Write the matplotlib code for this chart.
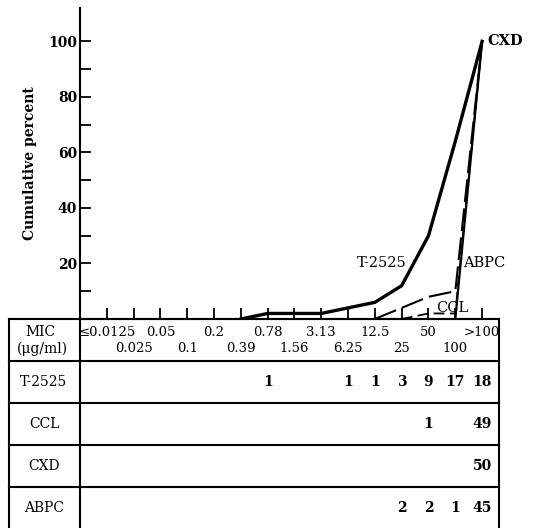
import numpy as np
import matplotlib
matplotlib.use('Agg')
import matplotlib.pyplot as plt
from matplotlib.transforms import blended_transform_factory

plt.rcParams['font.family'] = ['DejaVu Serif']

mic_top = ['≤0.0125', '0.05', '0.2', '0.78', '3.13', '12.5', '50', '>100']
mic_bottom = ['0.025', '0.1', '0.39', '1.56', '6.25', '25', '100']
drugs = ['T-2525', 'CCL', 'CXD', 'ABPC']
counts = {
    'T-2525': [0, 0, 0, 0, 0, 0, 1, 0, 0, 1, 1, 3, 9, 17, 18],
    'CCL':    [0, 0, 0, 0, 0, 0, 0, 0, 0, 0, 0, 0, 1, 0, 49],
    'CXD':    [0, 0, 0, 0, 0, 0, 0, 0, 0, 0, 0, 0, 0, 0, 50],
    'ABPC':   [0, 0, 0, 0, 0, 0, 0, 0, 0, 0, 0, 2, 2, 1, 45],
}
styles = {
    'T-2525': dict(color='black', lw=2.4, ls='-'),
    'CCL':    dict(color='black', lw=1.3, ls=(0, (6, 3))),
    'CXD':    dict(color='black', lw=1.6, ls='-'),
    'ABPC':   dict(color='black', lw=1.5, ls=(0, (11, 3))),
}
# label anchor (x index, y percent, alignment, weight)
label_pos = {'T-2525': (11.2, 20, 'right', 'normal'),
             'ABPC': (13.3, 20, 'left', 'normal'),
             'CCL': (12.3, 3.8, 'left', 'normal'),
             'CXD': (14.2, 100, 'left', 'bold')}

W, H = 546, 528
fig = plt.figure(figsize=(W / 100, H / 100), dpi=100)

# pixel-space axes for the table
tab = fig.add_axes([0, 0, 1, 1], zorder=0)
tab.set_xlim(0, W)
tab.set_ylim(H, 0)
tab.axis('off')

ax_left, ax_right, ax_top, ax_bot = 80, 499, 8, 319
ax = fig.add_axes([ax_left / W, (H - ax_bot) / H, (ax_right - ax_left) / W,
                   (ax_bot - ax_top) / H], zorder=1)
ax.patch.set_alpha(0)
n = len(counts['T-2525'])
ax.set_xlim(-1, 14.63)
ax.set_ylim(0, 112)

for d in drugs:
    c = np.array(counts[d])
    cum = np.cumsum(c) / c.sum() * 100
    start = max(np.nonzero(c)[0][0] - 1, 0)
    xs = np.arange(start, n)
    ax.plot(xs, cum[start:], **styles[d], solid_joinstyle='miter', dash_capstyle='butt')
    lx, ly, ha, fw = label_pos[d]
    ax.text(lx, ly, d, ha=ha, va='center', fontsize=10.5, fontweight=fw)

ax.spines['top'].set_visible(False)
ax.spines['right'].set_visible(False)
ax.spines['left'].set_linewidth(1.5)
ax.spines['bottom'].set_linewidth(1.5)
ax.set_yticks([20, 40, 60, 80, 100])
ax.set_yticks([10, 30, 50, 70, 90], minor=True)
ax.set_yticklabels(['20', '40', '60', '80', '100'], fontweight='bold', fontsize=10)
ax.set_xticks(np.arange(n))
ax.set_xticklabels([])
ax.tick_params(axis='y', which='both', direction='in', length=8, width=1.3, pad=2)
ax.tick_params(axis='x', direction='in', length=8, width=1.3)
ax.set_ylabel('Cumulative percent', fontweight='bold', fontsize=10, labelpad=8)

# table frame
lw = 1.5
tl, tr = 9, 499
rows_y = [319, 361, 403, 445, 487]
for y in rows_y:
    tab.plot([tl, tr], [y, y], color='black', lw=lw)
for x in [tl, ax_left, tr]:
    tab.plot([x, x], [319, H], color='black', lw=lw)

tr_x = blended_transform_factory(ax.transData, tab.transData)
for i, lab in enumerate(mic_top):
    tab.text(2 * i, 332, lab, transform=tr_x, ha='center', va='center', fontsize=9.5)
for i, lab in enumerate(mic_bottom):
    tab.text(2 * i + 1, 349, lab, transform=tr_x, ha='center', va='center', fontsize=9.5)
tab.text(40, 332, 'MIC', ha='center', va='center', fontsize=10)
tab.text(42, 349, '(μg/ml)', ha='center', va='center', fontsize=10)

for r, d in enumerate(drugs):
    yc = (rows_y[r + 1] + (rows_y[r + 2] if r + 2 < len(rows_y) else H)) / 2
    tab.text(44, yc, d, ha='center', va='center', fontsize=10)
    for i, v in enumerate(counts[d]):
        if v:
            tab.text(i, yc, str(v), transform=tr_x, ha='center', va='center',
                     fontsize=10, fontweight='bold')

fig.savefig('out.png', dpi=100)
